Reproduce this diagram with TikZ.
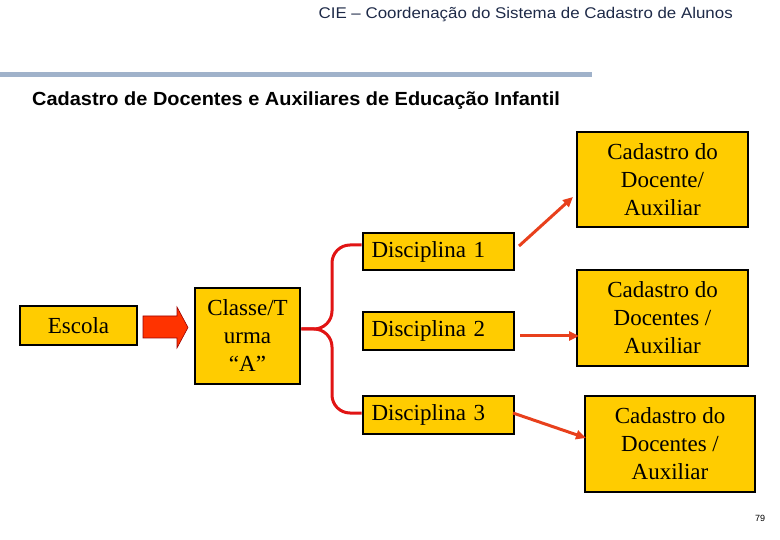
\documentclass[tikz,border=0pt]{standalone}
\usepackage{fontspec}
\setmainfont{Liberation Serif}
\newfontfamily\hdfont{Liberation Sans}
\usetikzlibrary{arrows.meta}
\definecolor{boxgold}{RGB}{255,204,0}
\definecolor{hdblue}{RGB}{30,42,72}
\definecolor{barblue}{RGB}{160,178,202}
\definecolor{bracered}{RGB}{225,20,20}
\definecolor{arrred}{RGB}{232,64,28}
\definecolor{blockred}{RGB}{255,51,0}
\tikzset{
  ybox/.style={draw=black, line width=2.8pt, fill=boxgold, inner sep=0pt,
    align=center, font=\fontsize{23}{28}\selectfont},
  lbox/.style={ybox, align=left, text width=#1},
  conn/.style={draw=arrred, line width=3pt, -{Triangle[length=10pt,width=9pt]}},
  brace/.style={draw=bracered, line width=3pt, rounded corners=18pt}
}
\begin{document}
\begin{tikzpicture}[x=1pt,y=-1pt]
\useasboundingbox (0,0) rectangle (780,540);
% header
\node[anchor=base east, font=\hdfont\fontsize{15.5}{18}\selectfont, text=hdblue, inner sep=0pt] (hdr) at (733,18.5) {\scalebox{1.09}[1]{CIE – Coordenação do Sistema de Cadastro de Alunos}};
\fill[barblue] (0,72) rectangle (592,77);
\node[anchor=base west, font=\hdfont\bfseries\fontsize{19}{22}\selectfont, inner sep=0pt] (ttl) at (32,106) {\scalebox{1.05}[1]{Cadastro de Docentes e Auxiliares de Educação Infantil}};
% boxes
\node[ybox, minimum width=117pt, minimum height=39pt] (esc) at (78.5,325.5) {Escola};
\node[ybox, minimum width=105pt, minimum height=96pt] (cls) at (247.5,336) {Classe/T\\urma\\“A”};
\node[lbox=134pt, minimum width=151pt, minimum height=37pt] (d1) at (438.5,251.5) {Disciplina 1};
\node[lbox=134pt, minimum width=151pt, minimum height=38pt] (d2) at (438.5,331) {Disciplina 2};
\node[lbox=134pt, minimum width=151pt, minimum height=38pt] (d3) at (438.5,415) {Disciplina 3};
\node[ybox, minimum width=171pt, minimum height=95pt] (c1) at (662.5,179.5) {Cadastro do\\Docente/\\Auxiliar};
\node[ybox, minimum width=171pt, minimum height=96pt] (c2) at (662.5,318) {Cadastro do\\Docentes /\\Auxiliar};
\node[ybox, minimum width=170pt, minimum height=96pt] (c3) at (670,444) {Cadastro do\\Docentes /\\Auxiliar};
% block arrow
\filldraw[fill=blockred, draw=red!60!black, line width=0.6pt]
  (143,316) -- (177,316) -- (177,307) -- (188,327.5) -- (177,348) -- (177,338) -- (143,338) -- cycle;
% brace
\coordinate (bl) at ([yshift=7pt]cls.east);
\draw[brace] (bl) -- (332,329) -- (332,245) -- (d1.west |- 0,245);
\draw[brace] (bl) -- (332,329) -- (332,413) -- (d3.west |- 0,413);
% arrows
\coordinate (a1s) at (519,246);
\coordinate (a1e) at (573,197);
\coordinate (a2s) at (520,336);
\coordinate (a2e) at (579,336);
\coordinate (a3s) at (513,413);
\coordinate (a3e) at (586,438);
\draw[conn] (a1s) -- (a1e);
\draw[conn] (a2s) -- (a2e);
\draw[conn] (a3s) -- (a3e);
% page number
\node[font=\hdfont\fontsize{9}{10}\selectfont, inner sep=0pt] (pg) at (760,518) {79};
\end{tikzpicture}
\end{document}
